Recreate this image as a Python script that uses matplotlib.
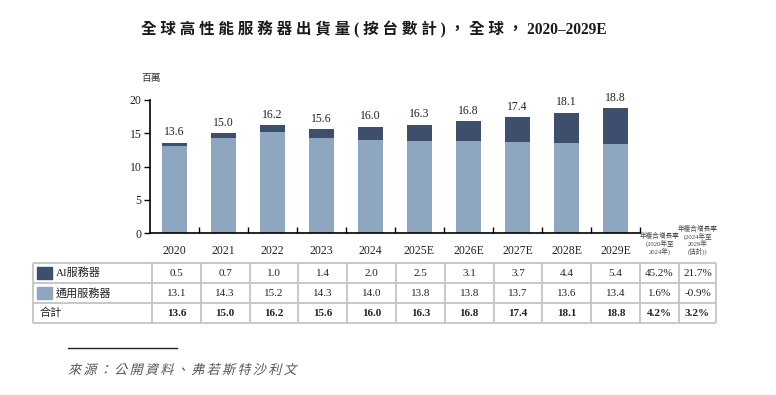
import matplotlib
matplotlib.use('Agg')
import matplotlib.pyplot as plt
from matplotlib.textpath import TextPath
from matplotlib.patches import PathPatch, Rectangle
from matplotlib.font_manager import FontProperties
from matplotlib.transforms import Affine2D

# data (millions of units)
years = ['2020', '2021', '2022', '2023', '2024', '2025E', '2026E', '2027E', '2028E', '2029E']
ai_servers = [0.5, 0.7, 1.0, 1.4, 2.0, 2.5, 3.1, 3.7, 4.4, 5.4]
general_servers = [13.1, 14.3, 15.2, 14.3, 14.0, 13.8, 13.8, 13.7, 13.6, 13.4]
totals = [13.6, 15.0, 16.2, 15.6, 16.0, 16.3, 16.8, 17.4, 18.1, 18.8]
cagr_ai = ['45.2%', '21.7%']
cagr_general = ['1.6%', '-0.9%']
cagr_total = ['4.2%', '3.2%']
row_names = ['AI服務器', '通用服務器', '合計']
cagr_heads = ['年複合增長率\n(2020年至\n2024年)', '年複合增長率\n(2024年至\n2029年\n(估計))']

DARK = '#3e4f6d'
LIGHT = '#8fa6c1'
GRID = '#c4c4c4'
FAM = ['Liberation Serif', 'Noto Sans CJK TC']

plt.rcParams['font.family'] = FAM

W, H = 776, 395
fig = plt.figure(figsize=(W / 100, H / 100), dpi=100, facecolor='w')

# main bar axes, placed in pixel units
ax = fig.add_axes([150 / W, (H - 233) / H, 490 / W, 133 / H])
x = range(len(years))
ax.bar(x, general_servers, width=0.51, color=LIGHT)
ax.bar(x, ai_servers, width=0.51, bottom=general_servers, color=DARK)
for i, t in enumerate(totals):
    ax.annotate('%.1f' % t, (i, t), xytext=(0, 3), textcoords='offset points',
                ha='center', va='bottom', fontsize=8.5, color='#222222', annotation_clip=False)
ax.set_xlim(-0.5, len(years) - 0.5)
ax.set_ylim(0, 20)
ax.set_yticks([0, 5, 10, 15, 20])
ax.tick_params(axis='y', length=4, width=1, pad=2, labelsize=8.5, labelcolor='#222222')
ax.set_xticks(list(x))
ax.set_xticklabels(years, fontsize=8.5, color='#222222')
ax.tick_params(axis='x', which='major', length=0, pad=9)
ax.set_xticks([i + 0.5 for i in x], minor=True)
ax.tick_params(axis='x', which='minor', direction='in', length=4, width=1)
for s in ('top', 'right'):
    ax.spines[s].set_visible(False)
ax.spines['left'].set_linewidth(1.2)
ax.spines['bottom'].set_linewidth(1.2)

# overlay in pixel coordinates for title, table and source
ov = fig.add_axes([0, 0, 1, 1], facecolor='none')
ov.set_xlim(0, W)
ov.set_ylim(H, 0)
ov.axis('off')

title = '全 球 高 性 能 服 務 器 出 貨 量 ( 按 台 數 計 ) ， 全 球 ， 2020–2029E'
ov.text(374, 30, title, ha='center', va='center', fontsize=11.2, weight='bold', color='#1a1a1a')
ov.text(151, 78, '百萬', ha='center', va='center', fontsize=7, color='#333333')

# table
left, first_w, right = 33, 152, 716
col_w = (640 - first_w) / len(years)
cagr_x = [640, 679, 716]
rows_y = [263, 283, 303, 323]
for yy in rows_y:
    ov.plot([left, right], [yy, yy], color=GRID, lw=1.3, solid_capstyle='butt')
vlines = [left, first_w] + [first_w + col_w * (i + 1) for i in range(len(years))] + cagr_x[1:]
for xx in vlines:
    ov.plot([xx, xx], [rows_y[0], rows_y[-1]], color=GRID, lw=1.3, solid_capstyle='butt')

ov.add_patch(Rectangle((37, 267), 15, 12, color=DARK))
ov.add_patch(Rectangle((37, 287), 15, 12, color=LIGHT))
ov.text(56, 273, row_names[0], va='center', fontsize=8, color='#222222')
ov.text(56, 293, row_names[1], va='center', fontsize=8, color='#222222')
ov.text(40, 313, row_names[2], va='center', fontsize=8, color='#222222')

rows = [(ai_servers, cagr_ai, 'normal'), (general_servers, cagr_general, 'normal'),
        (totals, cagr_total, 'bold')]
for r, (vals, cg, wt) in enumerate(rows):
    yc = (rows_y[r] + rows_y[r + 1]) / 2
    for i, v in enumerate(vals):
        ov.text(first_w + col_w * (i + 0.5), yc, '%.1f' % v, ha='center', va='center',
                fontsize=8, weight=wt, color='#222222')
    for j, c in enumerate(cg):
        ov.text((cagr_x[j] + cagr_x[j + 1]) / 2, yc, c, ha='center', va='center',
                fontsize=8, weight=wt, color='#222222')

ov.text(660, 255, cagr_heads[0], ha='center', va='bottom', fontsize=4.8,
        color='#444444', linespacing=1.05)
ov.text(698, 255, cagr_heads[1], ha='center', va='bottom', fontsize=4.8,
        color='#444444', linespacing=1.05)

# source line with slanted characters
ov.plot([68, 177], [348, 348], color='#222222', lw=1)
src = '來源：公開資料、弗若斯特沙利文'
fp = FontProperties(family='Noto Sans CJK TC')
for i, ch in enumerate(src):
    tp = TextPath((0, 0), ch, size=13, prop=fp)
    tr = Affine2D().skew_deg(14, 0).scale(1, -1).translate(68 + i * 15.4, 374)
    ov.add_patch(PathPatch(tp, transform=tr + ov.transData, color='#555555', lw=0))

fig.savefig('out.png', dpi=100, facecolor='w')
